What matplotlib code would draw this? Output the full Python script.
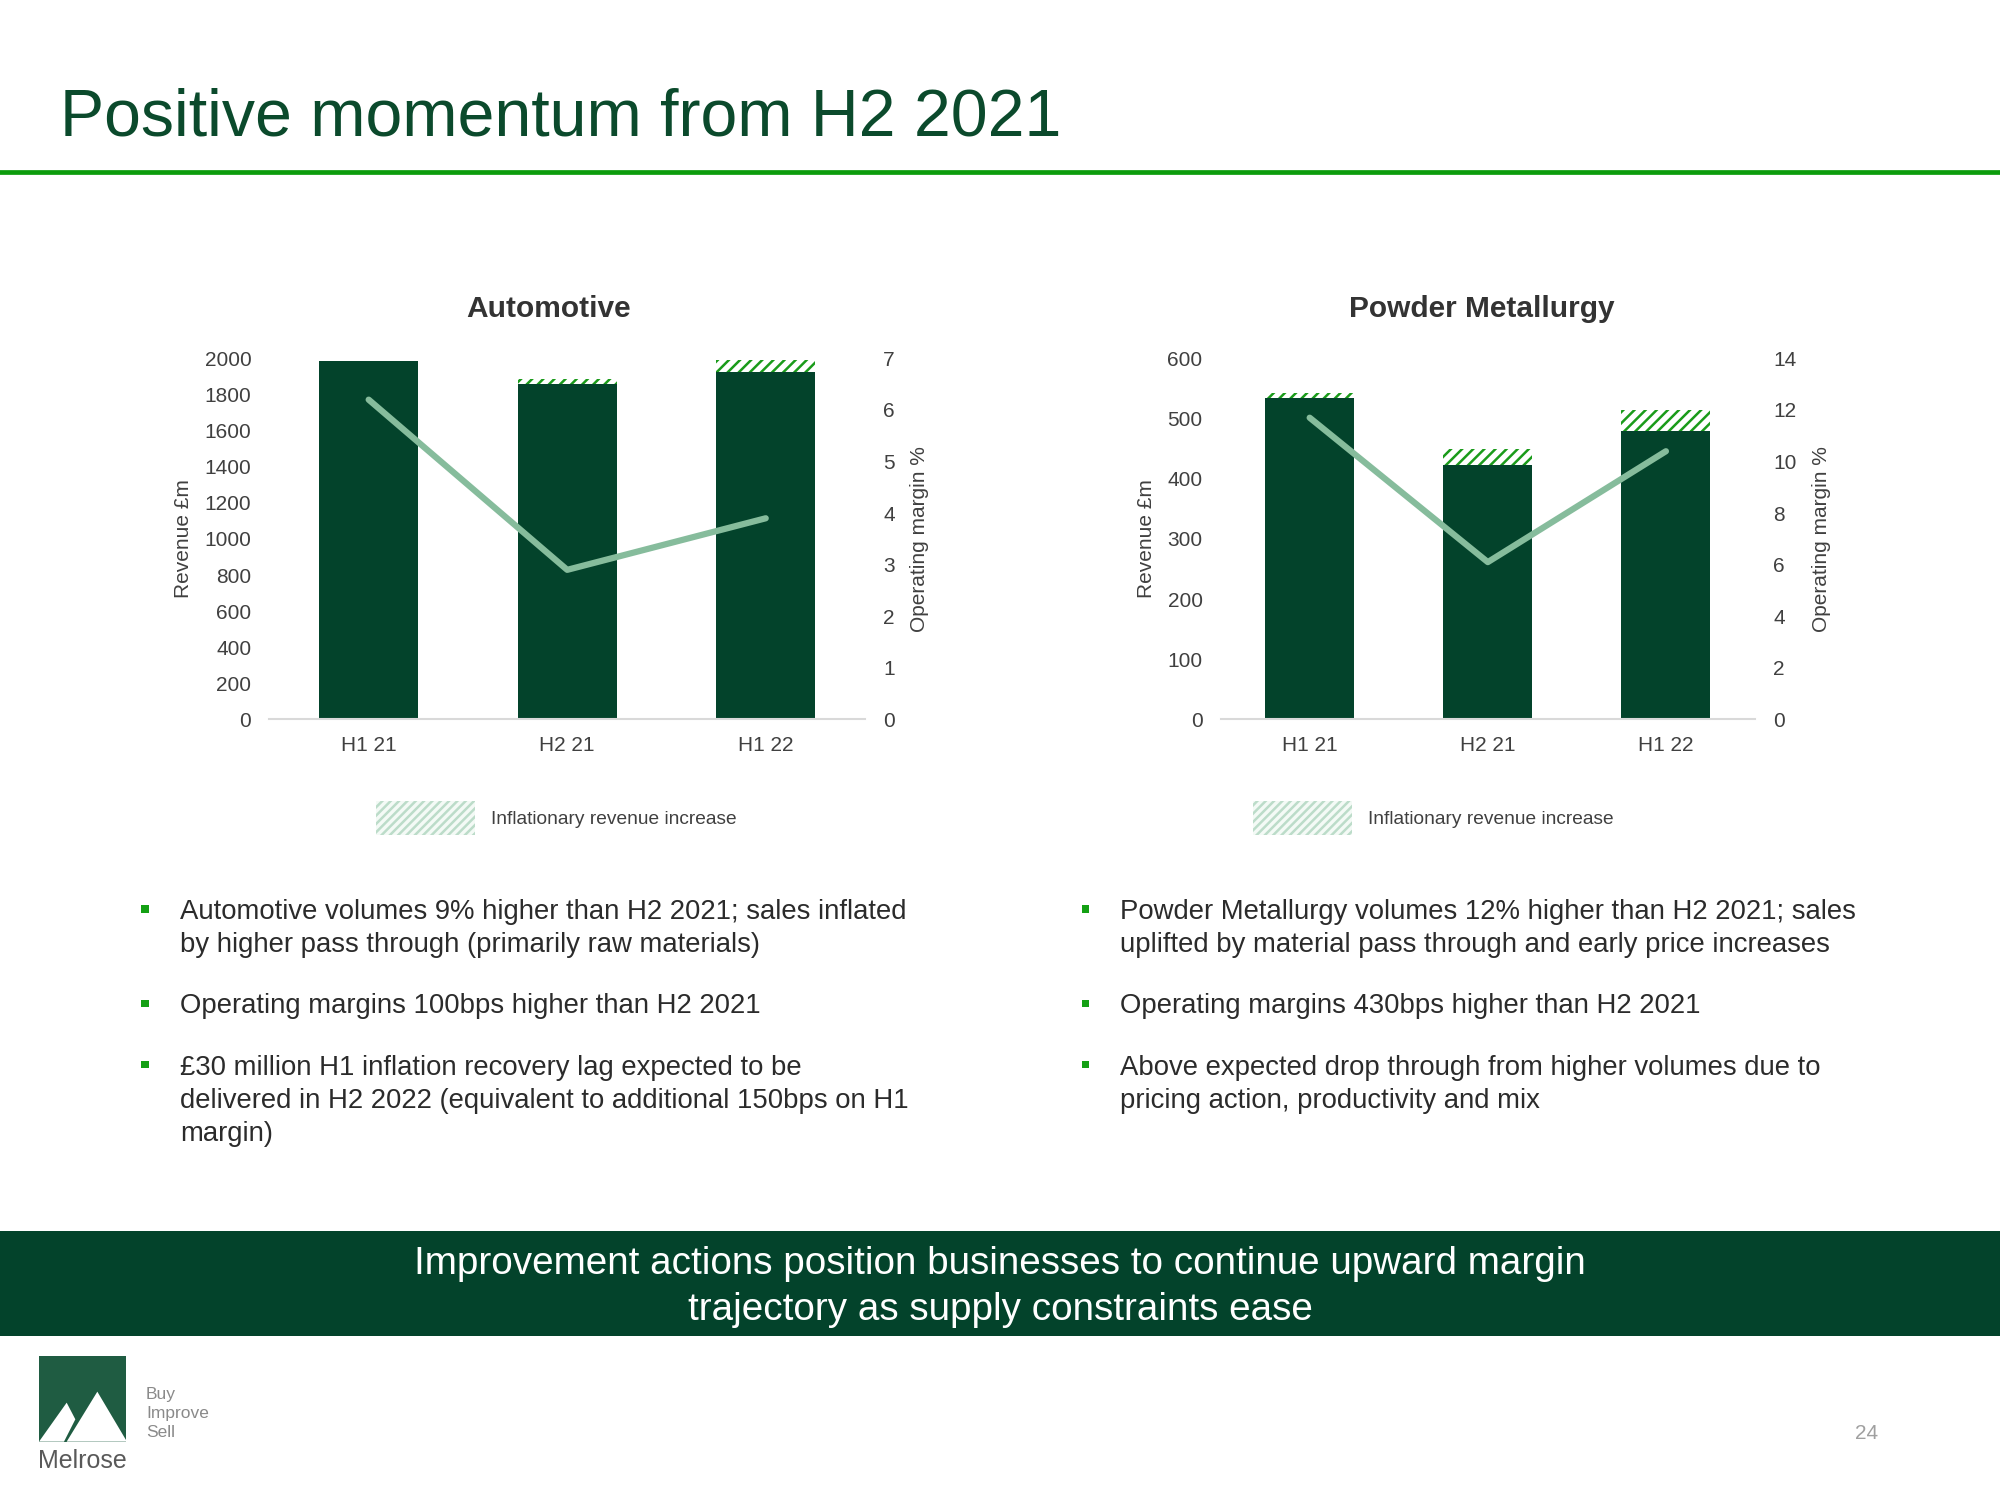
import matplotlib
matplotlib.use("Agg")
import matplotlib.pyplot as plt
from matplotlib.patches import Rectangle, Polygon, Patch
import numpy as np

plt.rcParams['font.family'] = ['Liberation Sans', 'DejaVu Sans']
plt.rcParams['hatch.linewidth'] = 1.8

# data
periods = ["H1 21", "H2 21", "H1 22"]

auto_revenue = [1985, 1860, 1922]
auto_inflation = [0, 28, 70]
auto_margin = [6.2, 2.9, 3.9]

pm_revenue = [535, 422, 479]
pm_inflation = [7, 27, 36]
pm_margin = [11.7, 6.1, 10.4]

auto_rev_ticks = list(range(0, 2001, 200))
auto_mar_ticks = list(range(0, 8, 1))
pm_rev_ticks = list(range(0, 601, 100))
pm_mar_ticks = list(range(0, 15, 2))

left_bullets = [
    ["Automotive volumes 9% higher than H2 2021; sales inflated",
     "by higher pass through (primarily raw materials)"],
    ["Operating margins 100bps higher than H2 2021"],
    ["£30 million H1 inflation recovery lag expected to be",
     "delivered in H2 2022 (equivalent to additional 150bps on H1",
     "margin)"],
]
right_bullets = [
    ["Powder Metallurgy volumes 12% higher than H2 2021; sales",
     "uplifted by material pass through and early price increases"],
    ["Operating margins 430bps higher than H2 2021"],
    ["Above expected drop through from higher volumes due to",
     "pricing action, productivity and mix"],
]

DARK = '#03432b'
LINE = '#86bc9c'
HATCH = '#1a9b1a'
TXT = '#404040'

W, H = 2000, 1500
def fx(px):
    return px / W
def fy(py):
    return 1 - py / H

fig = plt.figure(figsize=(20, 15), dpi=100)

# header
fig.text(fx(60), fy(135), "Positive momentum from H2 2021", fontsize=47.7,
         color='#0b4a2c', ha='left', va='baseline')
fig.add_artist(plt.Line2D([0, 1], [fy(171.7), fy(171.7)], color='#0c9c0c',
                          lw=3.4, transform=fig.transFigure))


def draw_chart(rect, title, title_x, rev, infl, mar, rticks, mticks, leg_x):
    ax = fig.add_axes(rect)
    x = np.arange(len(periods))
    ax.bar(x, rev, width=0.5, color=DARK, lw=0, zorder=2)
    ax.bar(x, infl, width=0.5, bottom=rev, facecolor='white', edgecolor=HATCH,
           hatch='///', lw=0, zorder=2)
    ax.set_xlim(-0.5, 2.5)
    ax.set_ylim(rticks[0], rticks[-1])
    ax.set_yticks(rticks)
    ax.set_xticks(x)
    ax.set_xticklabels(periods)
    ax.tick_params(axis='both', length=0, labelsize=15, labelcolor=TXT)
    ax.tick_params(axis='y', pad=13)
    ax.tick_params(axis='x', pad=12)
    for s in ['top', 'right', 'left']:
        ax.spines[s].set_visible(False)
    ax.spines['bottom'].set_color('#d9d9d9')
    ax.spines['bottom'].set_linewidth(1.5)
    ax.set_ylabel("Revenue £m", fontsize=15, color=TXT, labelpad=8)

    ax2 = ax.twinx()
    ax2.plot(x, mar, color=LINE, lw=4.5, solid_capstyle='round', zorder=3)
    ax2.set_ylim(mticks[0], mticks[-1])
    ax2.set_yticks(mticks)
    ax2.tick_params(axis='y', length=0, labelsize=15, labelcolor=TXT, pad=13)
    for s in ['top', 'right', 'left', 'bottom']:
        ax2.spines[s].set_visible(False)
    ax2.set_ylabel("Operating margin %", fontsize=15, color=TXT, labelpad=11)

    fig.text(title_x, fy(316.7), title, fontsize=21.5, fontweight='bold',
             color='#333333', ha='center', va='baseline')

    handle = Patch(facecolor='#f4faf6', edgecolor='#bcdcc9', hatch='////', lw=0,
                   label="Inflationary revenue increase")
    ax.legend(handles=[handle], loc='center', bbox_to_anchor=(leg_x, fy(818)),
              bbox_transform=fig.transFigure, frameon=False, fontsize=13.8,
              handlelength=5.2, handleheight=2.3, handletextpad=0.8,
              labelcolor=TXT)
    return ax


draw_chart([fx(269.4), fy(719.4), fx(865) - fx(269.4), fy(358.4) - fy(719.4)],
           "Automotive", fx(549), auto_revenue, auto_inflation, auto_margin,
           auto_rev_ticks, auto_mar_ticks, fx(556))
draw_chart([fx(1220.6), fy(719.4), fx(1755) - fx(1220.6), fy(358.4) - fy(719.4)],
           "Powder Metallurgy", fx(1482), pm_revenue, pm_inflation, pm_margin,
           pm_rev_ticks, pm_mar_ticks, fx(1433))

# bullets
para_y = [912, 1006.4, 1067.6]
step = 33.2
def draw_bullets(paras, bx, tx):
    for lines, y0 in zip(paras, para_y):
        fig.add_artist(Rectangle((fx(bx - 3.8), fy(y0 - 3 + 3.8)), 7.6 / W, 7.6 / H,
                                 transform=fig.transFigure, color='#14a014', lw=0))
        for i, line in enumerate(lines):
            fig.text(fx(tx), fy(y0 + i * step), line, fontsize=19.8, color='#2b2b2b',
                     ha='left', va='center')

draw_bullets(left_bullets, 145, 180)
draw_bullets(right_bullets, 1085.5, 1120)

# footer band
fig.add_artist(Rectangle((0, fy(1335.5)), 1, fy(1231) - fy(1335.5),
                         transform=fig.transFigure, color=DARK, lw=0))
fig.text(0.5, fy(1263.5), "Improvement actions position businesses to continue upward margin",
         fontsize=27.8, color='white', ha='center', va='center')
fig.text(0.5, fy(1310.5), "trajectory as supply constraints ease",
         fontsize=27.8, color='white', ha='center', va='center')

# logo
def lp(x, y):
    return (fx(20 + x / 3), fy(1340 + y / 3))
fig.add_artist(Polygon([lp(57, 48), lp(318, 48), lp(318, 305), lp(57, 305)],
                       closed=True, transform=fig.transFigure, color='#1f5c42', lw=0))
fig.add_artist(Polygon([lp(57, 305), lp(140, 188), lp(166, 238), lp(132, 305)],
                       closed=True, transform=fig.transFigure, color='white', lw=0))
fig.add_artist(Polygon([lp(140, 305), lp(232, 155), lp(318, 300), lp(318, 305)],
                       closed=True, transform=fig.transFigure, color='white', lw=0))
fig.text(fx(38), fy(1468), "Melrose", fontsize=18, color='#595959',
         ha='left', va='baseline')
for i, w in enumerate(["Buy", "Improve", "Sell"]):
    fig.text(fx(146), fy(1394 + i * 19.4), w, fontsize=12.5, color='#8a8a8a',
             ha='left', va='center')

fig.text(fx(1878), fy(1439), "24", fontsize=15, color='#a0a0a0',
         ha='right', va='baseline')

fig.savefig("out.png", dpi=100)
